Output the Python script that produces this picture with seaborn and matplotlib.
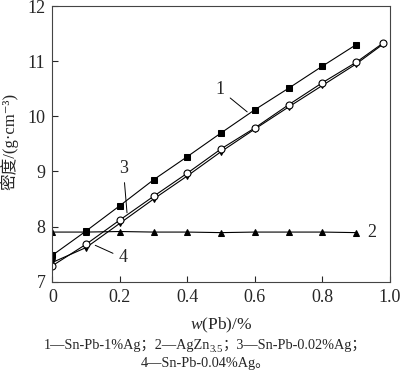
import numpy as np
import pandas as pd
import matplotlib
matplotlib.use("Agg")
import matplotlib.pyplot as plt
import seaborn as sns

# --------------------------------------------------------
# data
# --------------------------------------------------------
x_a = [0, 0.1, 0.2, 0.3, 0.4, 0.5, 0.6, 0.7, 0.8, 0.9]
x_b = [0, 0.1, 0.2, 0.3, 0.4, 0.5, 0.6, 0.7, 0.8, 0.9, 0.98]

s1 = [7.48, 7.92, 8.38, 8.85, 9.27, 9.70, 10.12, 10.51, 10.91, 11.30]   # Sn-Pb-1%Ag
s2 = [7.90, 7.90, 7.91, 7.90, 7.90, 7.89, 7.90, 7.90, 7.90, 7.89]       # AgZn3.5
s3 = [7.29, 7.68, 8.12, 8.55, 8.97, 9.41, 9.79, 10.21, 10.61, 10.98, 11.33]  # Sn-Pb-0.02%Ag
s4 = [7.35, 7.62, 8.06, 8.50, 8.92, 9.36, 9.77, 10.17, 10.56, 10.95, 11.31]  # Sn-Pb-0.04%Ag

x_ticks = [0, 0.2, 0.4, 0.6, 0.8, 1.0]
x_tick_labels = ["0", "0.2", "0.4", "0.6", "0.8", "1.0"]
y_ticks = [7, 8, 9, 10, 11, 12]

curve_labels = ["1", "2", "3", "4"]
ylabel = "密度/(g·cm⁻³)"
xlabel = "$w$(Pb)/%"
caption_1 = ["1—Sn-Pb-1%Ag；2—AgZn", "3.5", "；3—Sn-Pb-0.02%Ag；"]
caption_2 = "4—Sn-Pb-0.04%Ag。"

# --------------------------------------------------------
# style
# --------------------------------------------------------
sns.set_style("ticks")
plt.rcParams["font.family"] = ["Liberation Serif", "Noto Sans CJK SC", "DejaVu Sans"]
plt.rcParams["mathtext.fontset"] = "custom"
plt.rcParams["mathtext.rm"] = "Liberation Serif"
plt.rcParams["mathtext.it"] = "Liberation Serif:italic"
plt.rcParams["axes.unicode_minus"] = False

fig = plt.figure(figsize=(4.0, 3.8), dpi=100)
ax = fig.add_axes([0.131, 0.2587, 0.844, 0.7255])

common = dict(color="black", linewidth=0.8, ax=ax, legend=False)
sns.lineplot(x=x_a, y=s1, marker="s", markersize=4.5,
             markerfacecolor="black", markeredgecolor="black", **common)
sns.lineplot(x=x_a, y=s2, marker="^", markersize=4.5,
             markerfacecolor="black", markeredgecolor="black", **common)
sns.lineplot(x=x_b, y=s4, marker="v", markersize=4.5,
             markerfacecolor="black", markeredgecolor="black", **common)
sns.lineplot(x=x_b, y=s3, marker="o", markersize=5,
             markerfacecolor="white", markeredgecolor="black",
             markeredgewidth=0.8, **common)

ax.set_xlim(0, 1.0)
ax.set_ylim(7, 12)
ax.set_xticks(x_ticks)
ax.set_xticklabels(x_tick_labels)
ax.set_yticks(y_ticks)
ax.tick_params(direction="in", length=4, width=0.8, labelsize=13, pad=5)
for sp in ax.spines.values():
    sp.set_linewidth(0.8)
    sp.set_color("#444444")

ax.set_ylabel(ylabel, fontsize=12)
ax.yaxis.set_label_coords(-0.10, 0.51)
ax.set_xlabel(xlabel, fontsize=12.5, family="Liberation Serif")
ax.xaxis.set_label_coords(0.5, -0.125)

# curve labels with leader lines
arrow = dict(arrowstyle="-", color="black", lw=0.7, shrinkA=2, shrinkB=0)
ax.annotate(curve_labels[0], xy=(0.577, 10.08), xytext=(0.497, 10.48),
            fontsize=13, ha="center", va="center", arrowprops=arrow)
ax.annotate(curve_labels[2], xy=(0.221, 8.25), xytext=(0.21, 9.06),
            fontsize=13, ha="center", va="center", arrowprops=arrow)
ax.annotate(curve_labels[3], xy=(0.127, 7.66), xytext=(0.21, 7.43),
            fontsize=13, ha="center", va="center", arrowprops=arrow)
ax.text(0.947, 7.90, curve_labels[1], fontsize=13, ha="center", va="center")

# --------------------------------------------------------
# caption (subscript drawn as its own piece)
# --------------------------------------------------------
cap_size = 10.3
renderer = fig.canvas.get_renderer()
pieces = []
for i, s in enumerate(caption_1):
    sub = (i == 1)
    t = fig.text(0, 0, s, fontsize=cap_size * (0.75 if sub else 1.0),
                 ha="left", va="baseline")
    pieces.append((t, sub))
widths = [t.get_window_extent(renderer).width / fig.bbox.width for t, _ in pieces]
x0 = 205 / 400 - sum(widths) / 2
base_y = 1 - 349 / 380
for (t, sub), w in zip(pieces, widths):
    t.set_position((x0, base_y - (2.5 / 380 if sub else 0)))
    x0 += w

fig.text(205 / 400, 1 - 367 / 380, caption_2, fontsize=cap_size,
         ha="center", va="baseline")

fig.savefig("out.png", dpi=100)
